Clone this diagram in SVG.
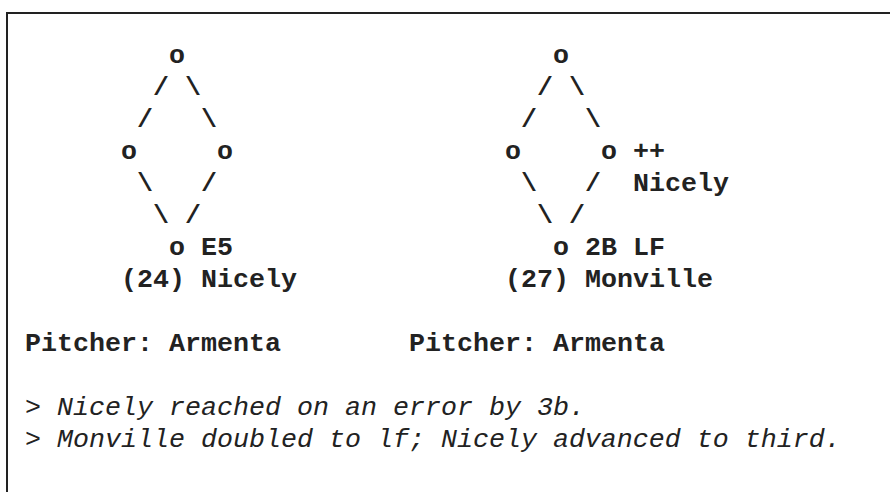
<svg xmlns="http://www.w3.org/2000/svg" width="890" height="492" viewBox="0 0 890 492">
<style>
text{font-family:"Liberation Mono","Courier New",monospace;font-size:26.67px;fill:#222}
.b{font-weight:bold}
.i{font-style:italic}
.frame{fill:none;stroke:#222;stroke-width:2}
</style>
<rect width="890" height="492" fill="#fff"/>
<path class="frame" d="M7,492 V13 H890"/>
<g id="connectors" class="b">
  <text x="153" y="95">/</text><text x="185" y="95">\</text>
  <text x="137" y="127">/</text><text x="201" y="127">\</text>
  <text x="137" y="191">\</text><text x="201" y="191">/</text>
  <text x="153" y="223">\</text><text x="185" y="223">/</text>
  <text x="537" y="95">/</text><text x="569" y="95">\</text>
  <text x="521" y="127">/</text><text x="585" y="127">\</text>
  <text x="521" y="191">\</text><text x="585" y="191">/</text>
  <text x="537" y="223">\</text><text x="569" y="223">/</text>
</g>
<g id="diamond1" class="b">
  <text x="169" y="63">o</text>
  <text x="121" y="159">o</text>
  <text x="217" y="159">o</text>
  <text x="169" y="255">o E5</text>
  <text x="121" y="287">(24) Nicely</text>
</g>
<g id="diamond2" class="b">
  <text x="553" y="63">o</text>
  <text x="505" y="159">o</text>
  <text x="601" y="159">o ++</text>
  <text x="633" y="191">Nicely</text>
  <text x="553" y="255">o 2B LF</text>
  <text x="505" y="287">(27) Monville</text>
</g>
<g id="pitchers" class="b">
  <text x="25" y="351">Pitcher: Armenta</text>
  <text x="409" y="351">Pitcher: Armenta</text>
</g>
<g id="notes" class="i">
  <text x="25" y="415">&gt; Nicely reached on an error by 3b.</text>
  <text x="25" y="447">&gt; Monville doubled to lf; Nicely advanced to third.</text>
</g>
</svg>
